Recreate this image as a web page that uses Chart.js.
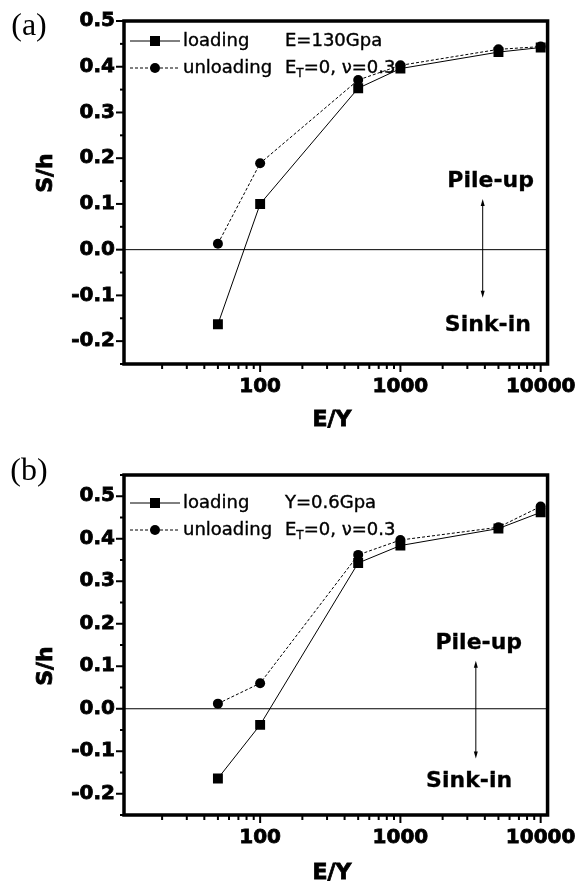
<!DOCTYPE html>
<html lang="en">
<head>
<meta charset="UTF-8">
<title>S/h vs E/Y</title>
<script src="https://cdn.jsdelivr.net/npm/chart.js"></script>
<style>
  body { margin: 0; background: #fff; }
  #wrap { position: relative; width: 587px; height: 888px; background: #fff; }
  canvas { position: absolute; left: 0; }
</style>
</head>
<body>
<div id="wrap">
  <canvas id="chartA" width="587" height="444" style="top:0"></canvas>
  <canvas id="chartB" width="587" height="444" style="top:444px"></canvas>
</div>
<script>
// E/Y (log x axis)
var ratios = [50, 100, 500, 1000, 5000, 10000];

// (a) E=130Gpa
var loadingA   = [-0.163, 0.100, 0.353, 0.396, 0.432, 0.442];
var unloadingA = [ 0.013, 0.189, 0.371, 0.403, 0.438, 0.444];

// (b) Y=0.6Gpa
var loadingB   = [-0.164, -0.038, 0.343, 0.384, 0.424, 0.462];
var unloadingB = [ 0.012,  0.060, 0.362, 0.397, 0.427, 0.476];

var xTickLabels = [100, 1000, 10000];

// minor ticks 20..90, 200..900, 2000..9000
var xMinor = [];
[10, 100, 1000].forEach(function(d){
    for (var k = 2; k <= 9; k++) xMinor.push(k * d);
});

var FONT = "'DejaVu Sans'";

function isMajor(v){
    return Math.abs(v * 10 - Math.round(v * 10)) < 1e-6;
}

function pts(ys){
    return ratios.map(function(r, i){ return {x: r, y: ys[i]}; });
}

function drawMarker(ctx, style, x, y){
    ctx.beginPath();
    if (style === 'rect') ctx.rect(x - 5, y - 5, 10, 10);
    else ctx.arc(x, y, 5, 0, Math.PI * 2);
    ctx.fill();
}

// filled text with a thin outline so it looks heavier like the scan
function heavyText(ctx, s, x, y, sw){
    ctx.fillText(s, x, y);
    if (sw){ ctx.lineWidth = sw; ctx.strokeText(s, x, y); }
}

var decor = {
    id: 'decor',
    beforeDatasetsDraw: function(chart){
        var ctx = chart.ctx, a = chart.chartArea;
        var y0 = chart.scales.y.getPixelForValue(0);
        ctx.save();
        ctx.strokeStyle = '#000';
        ctx.lineWidth = 1;
        ctx.beginPath(); ctx.moveTo(a.left, y0); ctx.lineTo(a.right, y0); ctx.stroke();
        ctx.restore();
    },
    afterDraw: function(chart, args, o){
        var ctx = chart.ctx, a = chart.chartArea;
        var xs = chart.scales.x, ys = chart.scales.y;
        ctx.save();
        ctx.strokeStyle = '#000';
        ctx.fillStyle = '#000';

        // y ticks (outside)
        ctx.lineWidth = 2;
        ys.ticks.forEach(function(t){
            var py = ys.getPixelForValue(t.value);
            var len = isMajor(t.value) ? 8 : 4;
            ctx.beginPath(); ctx.moveTo(a.left, py); ctx.lineTo(a.left - len, py); ctx.stroke();
        });
        // x ticks (outside)
        xMinor.forEach(function(v){
            var px = xs.getPixelForValue(v);
            ctx.beginPath(); ctx.moveTo(px, a.bottom); ctx.lineTo(px, a.bottom + 5); ctx.stroke();
        });
        xTickLabels.forEach(function(v){
            var px = xs.getPixelForValue(v);
            ctx.beginPath(); ctx.moveTo(px, a.bottom); ctx.lineTo(px, a.bottom + 8); ctx.stroke();
        });

        // frame
        ctx.lineWidth = 3.5;
        ctx.strokeRect(a.left, a.top, a.right - a.left, a.bottom - a.top);

        // legend
        var rows = [
            {dy: o.row1, dash: [], style: 'rect', text: 'loading'},
            {dy: o.row2, dash: [3, 2], style: 'circle', text: 'unloading'}
        ];
        ctx.textBaseline = 'middle';
        ctx.textAlign = 'left';
        ctx.font = '18px ' + FONT;
        rows.forEach(function(r){
            var y = a.top + r.dy;
            ctx.lineWidth = 1;
            ctx.setLineDash(r.dash);
            ctx.beginPath(); ctx.moveTo(a.left + 6, y); ctx.lineTo(a.left + 56, y); ctx.stroke();
            ctx.setLineDash([]);
            drawMarker(ctx, r.style, a.left + 31, y);
            heavyText(ctx, r.text, a.left + 59, y, 0.4);
        });
        var cx = a.left + 161;
        heavyText(ctx, o.note, cx, a.top + o.row1, 0.4);
        // E_T=0, v=0.3
        var y2 = a.top + o.row2;
        heavyText(ctx, 'E', cx, y2, 0.4);
        var w = ctx.measureText('E').width;
        ctx.font = '12px ' + FONT;
        heavyText(ctx, 'T', cx + w, y2 + 6, 0.3);
        var w2 = ctx.measureText('T').width;
        ctx.font = '18px ' + FONT;
        heavyText(ctx, '=0, \u03bd=0.3', cx + w + w2, y2, 0.4);

        // pile-up / sink-in
        ctx.font = 'bold 22px ' + FONT;
        ctx.textAlign = 'center';
        ctx.textBaseline = 'alphabetic';
        heavyText(ctx, 'Pile-up', xs.getPixelForValue(o.pile[0]), ys.getPixelForValue(o.pile[1]), 0.3);
        heavyText(ctx, 'Sink-in', xs.getPixelForValue(o.sink[0]), ys.getPixelForValue(o.sink[1]), 0.3);
        var ax = xs.getPixelForValue(o.arrow[0]);
        var ay1 = ys.getPixelForValue(o.arrow[1]), ay2 = ys.getPixelForValue(o.arrow[2]);
        ctx.lineWidth = 1;
        ctx.beginPath(); ctx.moveTo(ax, ay1 + 4); ctx.lineTo(ax, ay2 - 4); ctx.stroke();
        ctx.beginPath(); ctx.moveTo(ax, ay1); ctx.lineTo(ax - 2, ay1 + 7); ctx.lineTo(ax + 2, ay1 + 7); ctx.closePath(); ctx.fill();
        ctx.beginPath(); ctx.moveTo(ax, ay2); ctx.lineTo(ax - 2, ay2 - 7); ctx.lineTo(ax + 2, ay2 - 7); ctx.closePath(); ctx.fill();

        // axis titles
        ctx.textBaseline = 'middle';
        heavyText(ctx, 'E/Y', o.xTitle[0], o.xTitle[1], 0.8);
        ctx.save();
        ctx.translate(o.yTitle[0], o.yTitle[1]);
        ctx.rotate(-Math.PI / 2);
        heavyText(ctx, 'S/h', 0, 0, 0.8);
        ctx.restore();

        // panel label
        ctx.font = "32px 'Liberation Serif'";
        ctx.fillText(o.panel, o.panelPos[0], o.panelPos[1]);
        ctx.restore();
    }
};

function makeChart(id, loading, unloading, yMin, yMax, padTop, padRight, xH, deco){
    return new Chart(document.getElementById(id), {
        type: 'line',
        data: {
            datasets: [{
                label: 'loading',
                data: pts(loading),
                borderColor: '#000', backgroundColor: '#000',
                borderWidth: 1, pointStyle: 'rect', pointRadius: 7,
                pointBorderWidth: 0, tension: 0
            }, {
                label: 'unloading',
                data: pts(unloading),
                borderColor: '#000', backgroundColor: '#000',
                borderWidth: 1, borderDash: [3, 2], pointStyle: 'circle', pointRadius: 5,
                pointBorderWidth: 0, tension: 0
            }]
        },
        options: {
            responsive: false,
            animation: false,
            layout: { padding: { top: padTop, right: padRight, left: 0, bottom: 0 } },
            plugins: { legend: { display: false }, tooltip: { enabled: false }, decor: deco },
            scales: {
                x: {
                    type: 'logarithmic', min: 10.7, max: 11200,
                    grid: { display: false, drawTicks: false }, border: { display: false },
                    afterBuildTicks: function(s){ s.ticks = xTickLabels.map(function(v){ return {value: v}; }); },
                    afterFit: function(s){ s.height = xH; },
                    ticks: {
                        color: '#000', padding: 11, maxRotation: 0, autoSkip: false,
                        textStrokeColor: '#000', textStrokeWidth: 0.8,
                        font: { family: FONT, weight: 'bold', size: 20 },
                        callback: function(v){ return String(v); }
                    }
                },
                y: {
                    min: yMin, max: yMax,
                    grid: { display: false, drawTicks: false }, border: { display: false },
                    afterFit: function(s){ s.width = 124; },
                    ticks: {
                        stepSize: 0.05, color: '#000', padding: 9, autoSkip: false,
                        textStrokeColor: '#000', textStrokeWidth: 0.8,
                        font: { family: FONT, weight: 'bold', size: 20 },
                        callback: function(v){
                            if (!isMajor(v)) return '';
                            if (Math.abs(v) < 1e-9) return '0.0';
                            return v.toFixed(1);
                        }
                    }
                }
            }
        },
        plugins: [decor]
    });
}

makeChart('chartA', loadingA, unloadingA, -0.25, 0.5, 18, 32, 80, {
    row1: 20, row2: 47, note: 'E=130Gpa',
    pile: [4400, 0.137], sink: [4200, -0.177], arrow: [3860, 0.111, -0.105],
    xTitle: [332, 420], yTitle: [46, 173], panel: '(a)', panelPos: [29, 27]
});

makeChart('chartB', loadingB, unloadingB, -0.25, 0.55, 31, 34, 73, {
    row1: 28, row2: 55, note: 'Y=0.6Gpa',
    pile: [3620, 0.141], sink: [3090, -0.183], arrow: [3450, 0.113, -0.117],
    xTitle: [332, 429], yTitle: [46, 222], panel: '(b)', panelPos: [29, 28]
});
</script>
</body>
</html>
